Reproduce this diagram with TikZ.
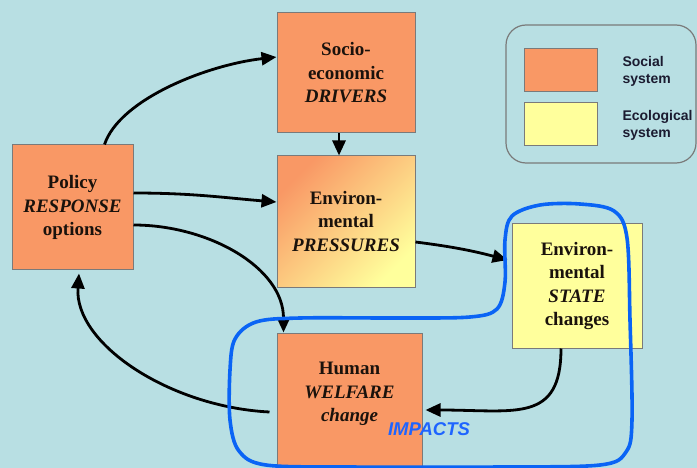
\documentclass[tikz,border=0pt]{standalone}
\usepackage{fontspec}
\setmainfont{Liberation Serif}
\newfontfamily\boxfont{Liberation Serif}
\newfontfamily\legendfont{Liberation Sans}
\usetikzlibrary{arrows.meta}

\definecolor{bgblue}{HTML}{B8DFE3}
\definecolor{socorange}{HTML}{F99865}
\definecolor{ecoyellow}{HTML}{FFFF9C}
\definecolor{boxline}{HTML}{7A7A7A}
\definecolor{inktext}{HTML}{1A120C}
\definecolor{legendtext}{HTML}{1B1B30}
\definecolor{loopblue}{HTML}{0A64F5}
\definecolor{impactblue}{HTML}{1E64FF}

\tikzset{
  sysbox/.style={draw=boxline, line width=1pt, inner sep=0pt, align=center,
    text=inktext, font=\boxfont\fontsize{19}{23.5}\selectfont\bfseries},
  social/.style={sysbox, fill=socorange},
  ecological/.style={sysbox, fill=ecoyellow},
  flow/.style={line width=2.8pt, -{Triangle[length=15pt,width=13pt]}},
  swatch/.style={draw=boxline, line width=1pt, minimum width=73pt, minimum height=43pt},
  legendlabel/.style={anchor=west, align=left, text=legendtext,
    font=\legendfont\fontsize{14}{17}\selectfont\bfseries}
}

\begin{document}
\begin{tikzpicture}[x=1pt, y=-1pt]
  % canvas
  \fill[bgblue] (0,0) rectangle (697,468);
  \useasboundingbox (0,0) rectangle (697,468);

  % system boxes
  \node[social, minimum width=121pt, minimum height=125pt] (pol) at (72.5,207.5)
    {Policy\\\textit{RESPONSE}\\options};
  \node[social, minimum width=138pt, minimum height=120pt] (drv) at (346,73)
    {Socio-\\economic\\\textit{DRIVERS}};
  \node[sysbox, minimum width=138pt, minimum height=131pt,
        top color=socorange, bottom color=ecoyellow, shading angle=45] (prs) at (346,221.5)
    {Environ-\\mental\\\textit{PRESSURES}};
  \node[ecological, minimum width=130pt, minimum height=124pt] (st) at (577,286)
    {Environ-\\mental\\\textit{STATE}\\changes};
  \node[social, minimum width=145pt, minimum height=150pt] (wel) at (349.5,408) {};
  \node[align=center, text=inktext, font=\boxfont\fontsize{19}{23.5}\selectfont\bfseries] (welt) at (349.5,394)
    {Human\\\textit{WELFARE}\\\textit{change}};

  % legend
  \node[draw=boxline, line width=1.2pt, rounded corners=20pt, minimum width=190pt,
        minimum height=138pt] (leg) at (601,94) {};
  \node[swatch, fill=socorange] (swsoc) at (560.5,70.5) {};
  \node[swatch, fill=ecoyellow] (sweco) at (560.5,124.5) {};
  \node[legendlabel] (lbsoc) at (619,71) {Social\\system};
  \node[legendlabel] (lbeco) at (619,125) {Ecological\\system};

  % flows between the boxes
  \draw[flow] ([xshift=32pt]pol.north) .. controls +(15,-45) and +(-70,8) .. ([yshift=16pt]drv.west);
  \draw[flow] ([xshift=-7pt]drv.south) -- ([xshift=-7pt]prs.north);
  \draw[flow] ([yshift=14.5pt]pol.east) .. controls +(60,0) and +(-50,-4) .. ([yshift=19.5pt]prs.west);
  \draw[flow] ([yshift=-17.5pt]pol.east) .. controls +(75,0) and +(0,-65) .. ([xshift=-66pt]wel.north);
  \draw[flow] ([yshift=-20.5pt]prs.east) .. controls +(40,5) and +(-30,-8) .. ([yshift=26pt,xshift=-4pt]st.west);
  \draw[flow] ([xshift=-16pt]st.south) .. controls +(0,75) and +(90,0) .. ([xshift=3pt,yshift=-2pt]wel.east);
  \draw[flow] ([xshift=-7pt,yshift=-4pt]wel.west) .. controls +(-100,-5) and +(-5,70) .. ([xshift=6.5pt,yshift=-3pt]pol.south);

  % impacts loop
  \draw[loopblue, line width=3.6pt] plot[smooth cycle, tension=0.55] coordinates {
    (300,318) (400,318) (470,317) (497,309) (505,282) (505,240) (512,216)
    (540,205) (580,204) (614,211) (627,238) (630,320) (632,420) (626,452)
    (600,465) (500,467) (350,467) (266,465) (239,451) (230,420) (230,370)
    (235,339) (256,322)};
  \node[text=impactblue, font=\legendfont\fontsize{18.5}{20}\selectfont\bfseries\itshape] (imp) at (429,429) {IMPACTS};
\end{tikzpicture}
\end{document}
